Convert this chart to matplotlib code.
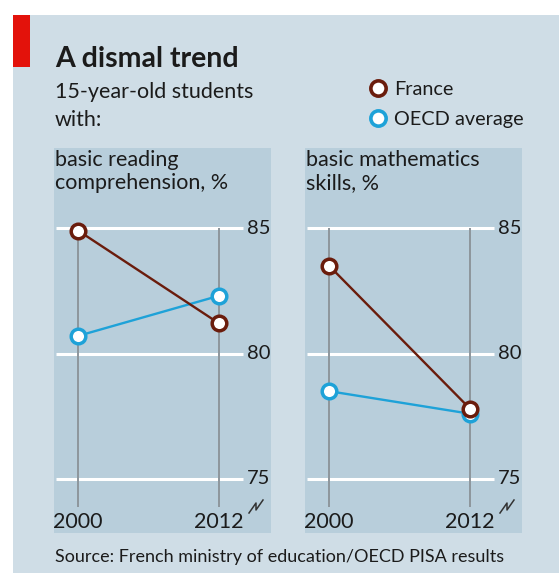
import matplotlib
matplotlib.use("Agg")
import matplotlib.pyplot as plt
from matplotlib.patches import Rectangle
from matplotlib.lines import Line2D

plt.rcParams['font.family'] = ['Lato', 'DejaVu Sans']

# Data
years = [2000, 2012]
panel_titles = ["basic reading\ncomprehension, %", "basic mathematics\nskills, %"]
france_reading = [84.9, 81.2]
oecd_reading = [80.7, 82.3]
france_maths = [83.5, 77.8]
oecd_maths = [78.5, 77.6]
y_ticks = [75, 80, 85]
series_names = ["France", "OECD average"]

W, H = 559, 573
BG = "#cfdde6"
PANEL = "#b8cedb"
BROWN = "#6a1c0c"
CYAN = "#1ea2d8"
TEXT = "#1b1b1b"
GREY = "#8d969c"

fig = plt.figure(figsize=(W / 100, H / 100), dpi=100, facecolor="white")


def fx(px):
    return px / W


def fy(py):
    return 1 - py / H


fig.patches.append(Rectangle((fx(13), 0), 1 - fx(13), fy(15), transform=fig.transFigure,
                             facecolor=BG, edgecolor="none", zorder=-2))
fig.patches.append(Rectangle((fx(13), fy(67)), fx(17), fy(15) - fy(67), transform=fig.transFigure,
                             facecolor="#e3120b", edgecolor="none", zorder=-1))

fig.text(fx(55), fy(67), "A dismal trend", fontsize=20.5, fontweight="bold", color=TEXT,
         va="baseline", ha="left")
fig.text(fx(55), fy(98), "15-year-old students", fontsize=15.5, color=TEXT, va="baseline", ha="left")
fig.text(fx(55), fy(126), "with:", fontsize=15.5, color=TEXT, va="baseline", ha="left")

# Legend
for i, (name, col) in enumerate(zip(series_names, [BROWN, CYAN])):
    yy = 88 + i * 30
    fig.add_artist(Line2D([fx(378)], [fy(yy)], marker="o", markersize=11, markerfacecolor="white",
                          markeredgecolor=col, markeredgewidth=2.6, linestyle="none",
                          transform=fig.transFigure))
    fig.text(fx(394), fy(yy + 7), name, fontsize=14.3, color=TEXT, va="baseline", ha="left")

panels = [
    (54, panel_titles[0], france_reading, oecd_reading),
    (305, panel_titles[1], france_maths, oecd_maths),
]

top_px, bot_px = 148, 533
pw = 217
ppy = 141 / 12   # pixels per year
ppu = 25.1       # pixels per percentage point
for left, title, fr, oe in panels:
    ax = fig.add_axes([fx(left), fy(bot_px), fx(pw), (bot_px - top_px) / H])
    ax.set_zorder(1)
    ax.set_facecolor(PANEL)
    for s in ax.spines.values():
        s.set_visible(False)
    ax.set_xticks([])
    ax.set_yticks([])
    # 2000 sits 24 px in from the panel's left edge
    ax.set_xlim(2000 - 24 / ppy, 2000 + (pw - 24) / ppy)
    ax.set_ylim(85 - (bot_px - 228) / ppu, 85 + (228 - top_px) / ppu)

    x_grid_end = 2000 + (243 - 78) / ppy
    ax.hlines(y_ticks, 2000 - 22 / ppy, x_grid_end, color="white", linewidth=2.2, zorder=1)
    for t in y_ticks:
        ax.text(x_grid_end + 4 / ppy, t, str(t), fontsize=14.5, color=TEXT, va="center", ha="left")

    y_bottom = 85 - (507 - 228) / ppu
    ax.vlines(years, y_bottom, 85, color=GREY, linewidth=1.4, zorder=2)
    for yr in years:
        ax.text(yr, 85 - (528 - 228) / ppu, str(yr), fontsize=15.5, color=TEXT,
                va="baseline", ha="center")

    ax.plot(years, oe, color=CYAN, linewidth=1.7, marker="o", markersize=10.5,
            markerfacecolor="white", markeredgecolor=CYAN, markeredgewidth=2.5, zorder=4)
    ax.plot(years, fr, color=BROWN, linewidth=1.7, marker="o", markersize=10.5,
            markerfacecolor="white", markeredgecolor=BROWN, markeredgewidth=2.5, zorder=5)

    ax.text(0.005, 1 - 2 / (bot_px - top_px), title, transform=ax.transAxes, fontsize=15.5,
            color=TEXT, va="top", ha="left", linespacing=1.2)

    # axis break mark
    bx = [249, 256, 256, 263]
    by = [513, 503, 510, 500]
    ax.plot([2000 + (b - 78) / ppy for b in bx],
            [85 - (b - 228) / ppu for b in by], color="#333", linewidth=1.1, zorder=3,
            clip_on=False)

fig.text(fx(55), fy(562), "Source: French ministry of education/OECD PISA results", fontsize=13,
         color=TEXT, va="baseline", ha="left")

fig.savefig("out.png", dpi=100, facecolor="white")
